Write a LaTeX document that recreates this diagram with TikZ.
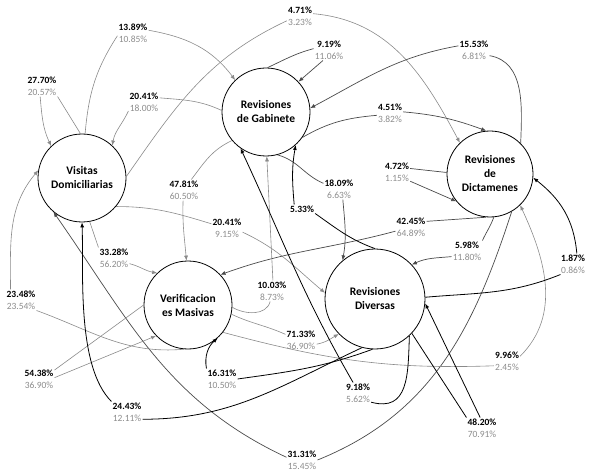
\documentclass[tikz,border=0pt]{standalone}
\usepackage{fontspec}
\setmainfont{Carlito}
\usetikzlibrary{arrows.meta}
\definecolor{edgegrey}{HTML}{8A8A8A}
\definecolor{edgedark}{HTML}{4A4A4A}
\definecolor{pctgrey}{HTML}{8C8C8C}

\begin{document}
\begin{tikzpicture}[x=1pt, y=1pt, >={Latex[length=5pt,width=4pt]},
  state/.style={circle, draw, line width=0.8pt, minimum size=88pt, inner sep=0pt,
    align=center, font=\fontsize{11.5}{14}\selectfont\bfseries},
  pct/.style={align=center, inner sep=1pt, font=\fontsize{9.5}{12}\selectfont},
  flow/.style={edgegrey, line width=0.6pt},
  flowdk/.style={edgedark, line width=0.7pt},
  flowbk/.style={black, line width=0.8pt}]
  \path[use as bounding box] (0,0) rectangle (589,-473);

  % states
  \node[state] (vd) at (82,-178) {Visitas\\Domiciliarias};
  \node[state] (rg) at (266,-112) {Revisiones\\de Gabinete};
  \node[state, minimum size=86pt] (rd) at (490,-174) {Revisiones\\de\\Dictamenes};
  \node[state] (vm) at (188,-305) {Verificacion\\es Masivas};
  \node[state, minimum size=100pt] (rdv) at (375,-299) {Revisiones\\Diversas};

  % transition labels
  \foreach \n/\x/\y/\a/\b in {vd2vd/42/86/27.70/20.57, vd2rg/133/33/13.89/10.85,
      rg2vd/144/102/20.41/18.00, vd2rd/300/16/4.71/3.23, rg2rg/329/50/9.19/11.06,
      rd2rg/474/50/15.53/6.81, rg2rd/390/113/4.51/3.82, rg2rdv/339/189/18.09/6.63,
      rg2vm/184/190/47.81/60.50, vd2rdv/227/228/20.41/9.15, rd2rd/397/172/4.72/1.15,
      rd2vm/411/227/42.45/64.89, rd2rdv/467/251/5.98/11.80, rdv2rd/573/264/1.87/0.86,
      rdv2rdv/482/428/48.20/70.91, rdv2rg/358/393/9.18/5.62, vm2rg/272/291/10.03/8.73,
      vm2rdv/301/340/71.33/36.90, rdv2vm/222/379/16.31/10.50, rdv2vd/127/412/24.43/12.11,
      vd2vm/114/258/33.28/56.20, vm2vd/21/300/23.48/23.54, vm2vm/39/379/54.38/36.90,
      rd2vd/302/460/31.31/15.45, vm2rd/507/361/9.96/2.45}{%
    \node[pct] (\n) at (\x,-\y) {\textbf{\a\%}\\\textcolor{pctgrey}{\b\%}};}
  \node[pct, font=\fontsize{9.5}{12}\selectfont\bfseries] (rdv2rga) at (302,-209) {5.33\%};

  % out of Visitas Domiciliarias
  \draw[flow] (vd.92) -- (vd2vd.south east);
  \draw[flow,->] (vd2vd.-100) to[out=-85,in=115] (vd.134);
  \draw[flow] (vd.86) to[out=85,in=-123] (vd2rg.190);
  \draw[flow,->] (vd2rg.10) to[out=-10,in=127] (rg.134);
  \draw[flow] (vd.2) to[out=55,in=-155] (vd2rd.200);
  \draw[flow,->] (vd2rd.10) to[out=-5,in=118] (rd.134);
  \draw[flow] (vd.-40) to[out=0,in=163] (vd2rdv.165);
  \draw[flow,->] (vd2rdv.-15) to[out=-25,in=140] (rdv.173);
  \draw[flow] (vd.-80) -- (vd2vm.north west);
  \draw[flow,->] (vd2vm.-20) to[out=-15,in=170] (vm.134);

  % out of Revisiones de Gabinete
  \draw[flow] (rg.178) to[out=155,in=-5] (rg2vd.15);
  \draw[flow,->] (rg2vd.-150) to[out=-115,in=80] (vd.47);
  \draw[flowdk] (rg.88) to[out=25,in=195] (rg2rg.175);
  \draw[flowdk,->] (rg2rg.-120) -- (rg.43);
  \draw[flowdk] (rg.-35) to[out=30,in=185] (rg2rd.190);
  \draw[flowdk,->] (rg2rd.5) to[out=-5,in=160] (rd.95);
  \draw[flowdk] (rg.-75) to[out=-15,in=157] (rg2rdv.160);
  \draw[flowdk,->] (rg2rdv.-70) to[out=-85,in=80] (rdv.130);
  \draw[flow] (rg.-140) to[out=205,in=53] (rg2vm.55);
  \draw[flow,->] (rg2vm.-95) to[out=-92,in=95] (vm.92);

  % out of Revisiones de Dictamenes
  \draw[flowdk] (rd.45) to[out=88,in=-10] (rd2rg.-20);
  \draw[flowdk,->] (rd2rg.165) to[out=190,in=28] (rg.5);
  \draw[flowdk] (rd.178) -- (rd2rd.15);
  \draw[flowdk,->] (rd2rd.-35) -- (rd.-141);
  \draw[flowdk] (rd.-95) -- (rd2vm.20);
  \draw[flowdk,->] (rd2vm.195) to[out=195,in=20] (vm.43);
  \draw[flowdk] (rd.-85) to[out=-110,in=65] (rd2rdv.north east);
  \draw[flowdk,->] (rd2rdv.200) to[out=185,in=25] (rdv.43);
  \draw[flowdk] (rd.-60) to[out=-108,in=22] (rd2vd.east);
  \draw[flowdk,->] (rd2vd.170) to[out=155,in=-55] (vd.-130);

  % out of Verificaciones Masivas
  \draw[flow] (vm.-3) to[out=-30,in=-105] (vm2rg.-100);
  \draw[flow,->] (vm2rg.85) -- (rg.-89);
  \draw[flow] (vm.-12) to[out=-25,in=156] (vm2rdv.160);
  \draw[flow,->] (vm2rdv.-15) to[out=10,in=-150] (rdv.-136);
  \draw[flow] (vm.-95) to[out=185,in=-20] (vm2vd.south east);
  \draw[flow,->] (vm2vd.135) to[out=90,in=-130] (vd.170);
  \draw[flow] (vm.180) -- (vm2vm.30);
  \draw[flow,->] (vm2vm.5) -- (vm.-136);
  \draw[flow] (vm.-38) to[out=-15,in=182] (vm2rd.200);
  \draw[flow,->] (vm2rd.20) to[out=45,in=-65] (rd.-46);

  % out of Revisiones Diversas
  \draw[flowbk] (rdv.90) to[out=160,in=-35] (rdv2rga.south east);
  \draw[flowbk,->] (rdv2rga.150) to[out=95,in=-100] (rg.-48);
  \draw[flowbk] (rdv.2) to[out=5,in=202] (rdv2rd.220);
  \draw[flowbk,->] (rdv2rd.70) to[out=95,in=-38] (rd.-5);
  \draw[flowbk] (rdv.-43) -- (rdv2rdv.north west);
  \draw[flowbk,->] (rdv2rdv.100) -- (rdv.-5);
  \draw[flowbk] (rdv.-47) to[out=-92,in=-15,looseness=1.3] (rdv2rg.-35);
  \draw[flowbk,->] (rdv2rg.115) to[out=120,in=-65] (rg.-125);
  \draw[flowbk] (rdv.-93) to[out=200,in=8] (rdv2vm.east);
  \draw[flowbk,->] (rdv2vm.north west) to[out=100,in=-139] (vm.-48);
  \draw[flowbk] (rdv.-105) to[out=205,in=0] (rdv2vd.-25);
  \draw[flowbk,->] (rdv2vd.north west) to[out=135,in=-88,looseness=0.7] (vd.-90);
\end{tikzpicture}
\end{document}
